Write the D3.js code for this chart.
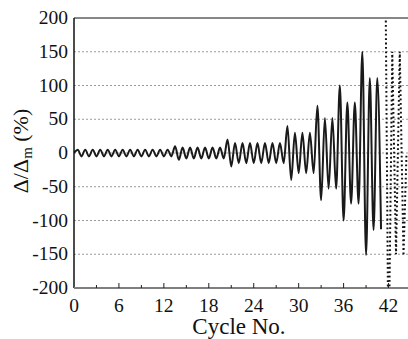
<!DOCTYPE html>
<html><head><meta charset="utf-8">
<script src="https://cdn.jsdelivr.net/npm/d3@7"></script>
<style>body{margin:0;background:#fff}svg{display:block}text{font-family:"Liberation Serif",serif !important}</style>
</head><body>
<svg id="c" width="408" height="339"></svg>
<script>
// Peak (at cycle i-0.5) and trough (at cycle i) values, %, for cycles 1..41 (solid line)
const peakValues   = [5,5,5,5,5,5,5,5,5,5,5,5,5,10,8,8,8,8,8,8,20,15,15,15,15,15,15,15,40,30,30,30,70,52,52,100,75,75,150,111,111];
const troughValues = [-5,-5,-5,-5,-5,-5,-5,-5,-5,-5,-5,-5,-5,-10,-8,-8,-8,-8,-8,-8,-20,-15,-15,-15,-15,-15,-15,-15,-40,-30,-30,-30,-70,-53,-53,-100,-75,-75,-151,-114,-113];
// Dotted continuation
const dottedX = [41.55, 42, 42.5, 43, 43.5, 44, 44.4];
const dottedY = [320, -320, 150, -150, 150, -152, 0];
const xTickLabels = [0, 6, 12, 18, 24, 30, 36, 42];
const xMinorTicks = [3, 9, 15, 21, 27, 33, 39];
const yTickLabels = [-200, -150, -100, -50, 0, 50, 100, 150, 200];
const yGrid = [-150, -100, -50, 0, 50, 100, 150];

const svg = d3.select("#c");
const L = 74, R = 408, T = 18, B = 288;
const x = d3.scaleLinear().domain([0, 44.6]).range([L, R]);
const y = d3.scaleLinear().domain([-200, 200]).range([B, T]);

svg.append("defs").append("clipPath").attr("id", "clip")
  .append("rect").attr("x", L).attr("y", T).attr("width", R - L).attr("height", B - T);

// grid
svg.append("g").selectAll("line").data(yGrid).join("line")
  .attr("x1", L).attr("x2", R).attr("y1", d => y(d)).attr("y2", d => y(d))
  .attr("stroke", "#9a9a9a").attr("stroke-width", 1).attr("stroke-dasharray", "2,2");

// solid series
const pts = [[0, 0]];
peakValues.forEach((p, i) => { pts.push([i + 0.5, p]); pts.push([i + 1, troughValues[i]]); });
const line = d3.line().x(d => x(d[0])).y(d => y(d[1])).curve(d3.curveMonotoneX);
svg.append("path").datum(pts).attr("clip-path", "url(#clip)")
  .attr("d", line).attr("fill", "none").attr("stroke", "#1a1a1a").attr("stroke-width", 2)
  .attr("stroke-linejoin", "round");

// dotted series
const dpts = dottedX.map((d, i) => [d, dottedY[i]]);
svg.append("path").datum(dpts).attr("clip-path", "url(#clip)")
  .attr("d", d3.line().x(d => x(d[0])).y(d => y(d[1]))).attr("fill", "none")
  .attr("stroke", "#111").attr("stroke-width", 2).attr("stroke-dasharray", "1.8,2.6");

// frame: top line, left axis, bottom axis
svg.append("line").attr("x1", L).attr("x2", R).attr("y1", T).attr("y2", T)
  .attr("stroke", "#111").attr("stroke-width", 1.2);
svg.append("line").attr("x1", L).attr("x2", L).attr("y1", T).attr("y2", B)
  .attr("stroke", "#111").attr("stroke-width", 1.5);
svg.append("line").attr("x1", L).attr("x2", R).attr("y1", B).attr("y2", B)
  .attr("stroke", "#7f7f7f").attr("stroke-width", 2);

// x ticks (inward)
svg.append("g").selectAll("line.maj").data(xTickLabels.slice(1)).join("line")
  .attr("x1", d => x(d)).attr("x2", d => x(d)).attr("y1", B).attr("y2", B - 5)
  .attr("stroke", "#222").attr("stroke-width", 1);
svg.append("g").selectAll("line.min").data(xMinorTicks).join("line")
  .attr("x1", d => x(d)).attr("x2", d => x(d)).attr("y1", B).attr("y2", B - 3)
  .attr("stroke", "#222").attr("stroke-width", 1);

// tick labels
svg.append("g").selectAll("text").data(xTickLabels).join("text")
  .attr("x", d => x(d)).attr("y", 312).attr("text-anchor", "middle")
  .style("font-size", "19.5px").attr("fill", "#111").text(d => d);
svg.append("g").selectAll("text").data(yTickLabels).join("text")
  .attr("x", 68).attr("y", d => y(d) + 6).attr("text-anchor", "end")
  .style("font-size", "19.5px").attr("fill", "#111").text(d => d);

// axis titles
svg.append("text").attr("x", 239).attr("y", 334).attr("text-anchor", "middle")
  .style("font-size", "23px").attr("fill", "#111").text("Cycle No.");
const yt = svg.append("text").attr("transform", `translate(28,151) rotate(-90)`)
  .attr("text-anchor", "middle").style("font-size", "22px").attr("fill", "#111");
yt.append("tspan").text("Δ/Δ");
yt.append("tspan").style("font-size", "15px").attr("dy", 4).text("m");
yt.append("tspan").attr("dy", -4).text(" (%)");
</script>
</body></html>
